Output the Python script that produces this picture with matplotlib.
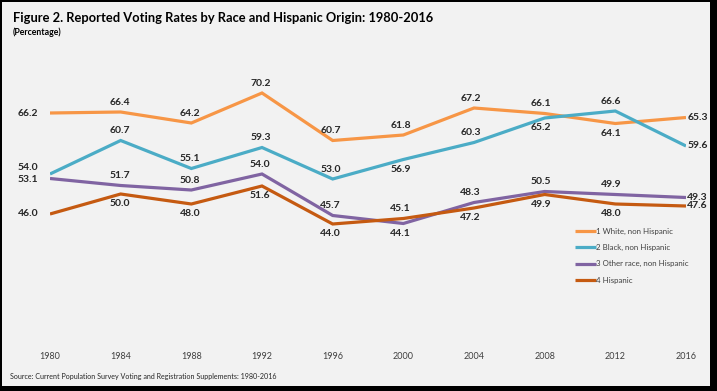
import matplotlib.pyplot as plt
from matplotlib.patches import Rectangle

years = [1980, 1984, 1988, 1992, 1996, 2000, 2004, 2008, 2012, 2016]
white = [66.2, 66.4, 64.2, 70.2, 60.7, 61.8, 67.2, 66.1, 64.1, 65.3]
black = [54.0, 60.7, 55.1, 59.3, 53.0, 56.9, 60.3, 65.2, 66.6, 59.6]
other = [53.1, 51.7, 50.8, 54.0, 45.7, 44.1, 48.3, 50.5, 49.9, 49.3]
hispanic = [46.0, 50.0, 48.0, 51.6, 44.0, 45.1, 47.2, 49.9, 48.0, 47.6]

names = ['1 White, non Hispanic', '2 Black, non Hispanic',
         '3 Other race, non Hispanic', '4 Hispanic']
colors = ['#F79646', '#4BACC6', '#8064A2', '#C55A11']

# label placement per point: L = left, A = above, B = below, R = right
white_pos = 'LAAAAAAABR'
black_pos = 'LAAAABABAR'
other_pos = 'LAAAABAAAR'
hisp_pos = 'LBBBBABBBR'
# extra vertical nudge (points) for the crowded 1980 labels
left_dy = [0, 5, -1, 0]

W, H = 717, 391
fig = plt.figure(figsize=(W / 100, H / 100), dpi=100)
fig.patch.set_facecolor('black')
fig.patches.append(Rectangle((2 / W, 1 - 386 / H), 708 / W, 384 / H,
                             transform=fig.transFigure, facecolor='#F2F2F2',
                             edgecolor='none', zorder=-1))

FONT = 'Lato'
TXT = '#262626'

# axes: 1980 at x=50px, 2016 at x=686px; y=20 at 344px, y=76 at 64px
ax = fig.add_axes([50 / W, 1 - 344 / H, 636 / W, 280 / H])
ax.set_zorder(1)
ax.set_facecolor('none')
ax.set_xlim(1980, 2016)
ax.set_ylim(20, 76)
for s in ax.spines.values():
    s.set_visible(False)
ax.set_yticks([])
ax.set_xticks(years)
ax.set_xticklabels([str(y) for y in years], fontsize=6.5, family=FONT,
                   color='#404040')
ax.tick_params(axis='x', length=0, pad=6)

for vals, pos, c, n, ldy in zip([white, black, other, hispanic],
                                [white_pos, black_pos, other_pos, hisp_pos],
                                colors, names, left_dy):
    ax.plot(years, vals, color=c, lw=2.3, label=n, solid_joinstyle='miter',
            solid_capstyle='butt')
    for i, (x, v, p) in enumerate(zip(years, vals, pos)):
        dx = -0.4 * i
        if p == 'L':
            off, ha = (-16, ldy), 'center'
        elif p == 'R':
            off, ha = (1, 0), 'left'
        elif p == 'A':
            off, ha = (dx, 7), 'center'
        else:
            off, ha = (dx, -7), 'center'
        ax.annotate(f'{v:.1f}', (x, v), xytext=off, textcoords='offset points',
                    ha=ha, va='center', fontsize=7.5, fontweight='bold',
                    family=FONT, color=TXT)

leg = ax.legend(loc='upper left', bbox_to_anchor=(575 / W, 1 - 228 / H),
                bbox_transform=fig.transFigure, frameon=False,
                prop={'family': FONT, 'size': 5.7}, handlelength=2.6,
                handletextpad=0.1, labelspacing=1.15, borderpad=0,
                borderaxespad=0)
for t in leg.get_texts():
    t.set_color('#404040')

fig.text(13 / W, 1 - 18 / H,
         'Figure 2. Reported Voting Rates by Race and Hispanic Origin: 1980-2016',
         fontsize=9.3, fontweight='bold', family=FONT, color='#000000',
         va='center')
fig.text(13 / W, 1 - 32 / H, '(Percentage)', fontsize=6.3, fontweight='bold',
         family=FONT, color='#000000', va='center')
fig.text(10 / W, 1 - 377 / H,
         'Source: Current Population Survey Voting and Registration Supplements: 1980-2016',
         fontsize=5.1, family=FONT, color='#262626', va='center')

fig.savefig('out.png', dpi=100, facecolor=fig.get_facecolor())
